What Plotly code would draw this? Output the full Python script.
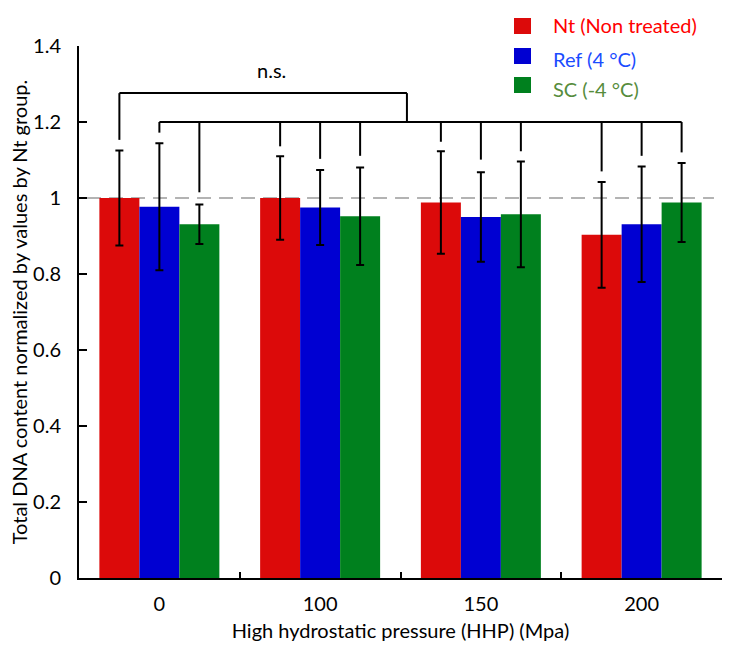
import plotly.graph_objects as go

# ---- data ----
pressures = ["0", "100", "150", "200"]
series_names = ["Nt (Non treated)", "Ref (4 \u00b0C)", "SC (-4 \u00b0C)"]
nt_mean = [1.000, 1.000, 0.988, 0.903]
nt_err = [0.125, 0.110, 0.135, 0.139]
ref_mean = [0.977, 0.975, 0.950, 0.931]
ref_err = [0.167, 0.099, 0.118, 0.152]
sc_mean = [0.931, 0.952, 0.957, 0.988]
sc_err = [0.052, 0.128, 0.139, 0.104]

# significance bracket ("n.s.") levels and drop-line ends
ns_label = "n.s."
ns_top_level = 1.276
ns_low_level = 1.200
ns_top_right = 1.54
nt_drop = [1.153, 1.136, 1.148, 1.070]
ref_drop = [1.172, 1.103, 1.101, 1.111]
sc_drop = [1.015, 1.111, 1.123, 1.120]
reference_level = 1.0

bar_colors = ["#dc0a0a", "#0000d2", "#00801e"]
text_colors = ["#ff0000", "#1a4cff", "#568c3c"]

FONT = "Lato"
BARGAP = 0.2535
bw = (1 - BARGAP) / 3  # width of each bar in category units

W, H = 743, 649
ML, MR, MT, MB = 79, 21, 46, 71
PW, PH = W - ML - MR, H - MT - MB


def px_x(px):
    return (px - ML) / PW


def px_y(py):
    return (H - MB - py) / PH


fig = go.Figure()
for k, (name, mean, err) in enumerate(zip(series_names,
                                          [nt_mean, ref_mean, sc_mean],
                                          [nt_err, ref_err, sc_err])):
    fig.add_trace(go.Bar(
        x=pressures, y=mean, name=name,
        marker=dict(color=bar_colors[k], line=dict(width=0)),
        error_y=dict(type="data", array=err, visible=True,
                     color="black", thickness=2, width=4),
        showlegend=False,
    ))

shapes = []
# dashed reference line at 1.0
shapes.append(dict(type="line", xref="x", yref="y", x0=-0.45, x1=3.45,
                   y0=reference_level, y1=reference_level, layer="below",
                   line=dict(color="#9a9a9a", width=1.5, dash="14px,8px")))

line_style = dict(color="black", width=2)
# top bracket
shapes.append(dict(type="line", xref="x", yref="y", x0=0 - bw, x1=ns_top_right,
                   y0=ns_top_level, y1=ns_top_level, line=line_style))
shapes.append(dict(type="line", xref="x", yref="y", x0=0 - bw, x1=0 - bw,
                   y0=ns_top_level, y1=nt_drop[0], line=line_style))
shapes.append(dict(type="line", xref="x", yref="y", x0=ns_top_right, x1=ns_top_right,
                   y0=ns_top_level, y1=ns_low_level, line=line_style))
# lower bracket
shapes.append(dict(type="line", xref="x", yref="y", x0=0, x1=3 + bw,
                   y0=ns_low_level, y1=ns_low_level, line=line_style))
for i in range(len(pressures)):
    for k, drops in enumerate([nt_drop, ref_drop, sc_drop]):
        if i == 0 and k == 0:
            continue
        xc = i + (k - 1) * bw
        shapes.append(dict(type="line", xref="x", yref="y", x0=xc, x1=xc,
                           y0=ns_low_level, y1=drops[i], line=line_style))

annotations = [dict(x=0.70, y=1.337, xref="x", yref="y", text=ns_label,
                    showarrow=False, font=dict(family=FONT, size=20, color="black"))]

# legend (drawn as swatches + coloured labels, top right)
sw_top = [18, 48, 77]
txt_mid = [25, 59, 89]
for k, name in enumerate(series_names):
    shapes.append(dict(type="rect", xref="paper", yref="paper",
                       x0=px_x(514), x1=px_x(531),
                       y0=px_y(sw_top[k] + 16), y1=px_y(sw_top[k]),
                       fillcolor=bar_colors[k], line=dict(width=0)))
    annotations.append(dict(xref="paper", yref="paper", x=px_x(551), y=px_y(txt_mid[k]),
                            xanchor="left", yanchor="middle", text=name, showarrow=False,
                            font=dict(family=FONT, size=20, color=text_colors[k])))

fig.update_layout(
    width=W, height=H,
    margin=dict(l=ML, r=MR, t=MT, b=MB),
    paper_bgcolor="white", plot_bgcolor="white",
    font=dict(family=FONT, size=20, color="black"),
    barmode="group", bargap=BARGAP, bargroupgap=0,
    shapes=shapes, annotations=annotations,
    showlegend=False,
)

fig.update_xaxes(
    type="category", range=[-0.5, 3.5],
    showline=True, linecolor="black", linewidth=2,
    ticks="inside", tickson="boundaries", ticklen=6, tickwidth=2, tickcolor="black",
    showgrid=False, zeroline=False,
    ticklabelstandoff=7,
    title=dict(text="High hydrostatic pressure (HHP) (Mpa)", standoff=10,
               font=dict(family=FONT, size=20)),
    automargin=False,
)
fig.update_yaxes(
    range=[0, 1.4], tickvals=[0, 0.2, 0.4, 0.6, 0.8, 1.0, 1.2, 1.4],
    ticktext=["0", "0.2", "0.4", "0.6", "0.8", "1", "1.2", "1.4"],
    showline=True, linecolor="black", linewidth=2,
    ticks="inside", ticklen=8, tickwidth=2, tickcolor="black",
    showgrid=False, zeroline=False,
    ticklabelstandoff=12,
    title=dict(text="Total DNA content normalized by values by Nt group.", standoff=0,
               font=dict(family=FONT, size=20)),
    automargin=False,
)

fig.write_html("out.html", config={"displayModeBar": False},
               post_script="document.body.style.margin='0';document.body.style.overflow='hidden';")
